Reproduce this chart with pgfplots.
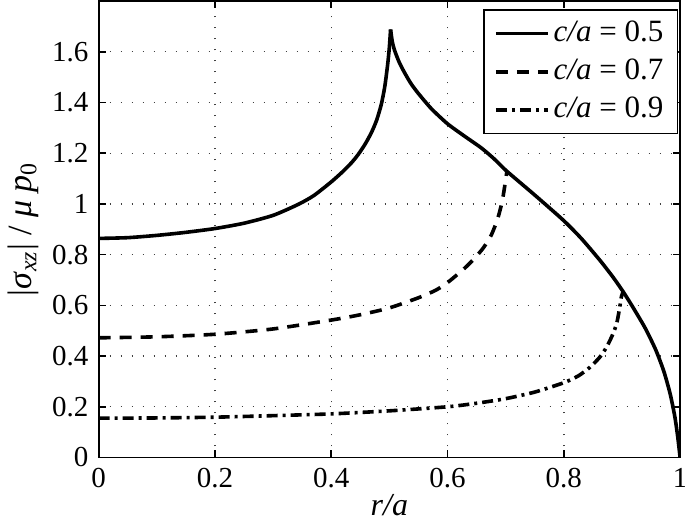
\documentclass[border=0pt]{standalone}
\usepackage{fontspec}
\setmainfont{Liberation Serif}
\usepackage{pgfplots}
\pgfplotsset{compat=1.18}

\begin{document}
\fontsize{15}{18}\selectfont
\begin{tikzpicture}
\useasboundingbox (-49.35pt,-35.25pt) rectangle (293.15pt,228.75pt);
\begin{axis}[
    at={(0pt,0pt)}, anchor=south west,
    scale only axis,
    width=290.7pt, height=228.2pt,
    xmin=0, xmax=1, ymin=0, ymax=1.8,
    xtick={0,0.2,0.4,0.6,0.8,1},
    ytick={0,0.2,0.4,0.6,0.8,1,1.2,1.4,1.6},
    /pgf/number format/assume math mode=true,
    ticklabel style={font=\fontsize{14.5}{17}\selectfont},
    grid=major,
    major grid style={black!75, line width=0.7pt, dash pattern=on 0.7pt off 4.8pt},
    tick align=inside,
    major tick length=3.5pt,
    tick style={black, line width=0.8pt},
    axis line style={black, line width=0.9pt},
    xlabel={\textit{r/a}},
    ylabel={|\textit{σ}\textsubscript{\textit{xz}}| / \textit{μ p}\textsubscript{0}},
    xlabel style={at={(axis description cs:0.5,-0.104)}, anchor=center, font=\fontsize{16}{19}\selectfont},
    ylabel style={at={(axis description cs:-0.13,0.5)}, anchor=center, font=\fontsize{17}{20}\selectfont},
    legend style={at={(rel axis cs:0.9966,0.982)}, anchor=north east,
        draw=black, line width=0.8pt, font=\fontsize{15.5}{18}\selectfont,
        row sep=2.5pt, inner xsep=5pt, inner ysep=3.5pt},
    legend cell align=left,
    legend image code/.code={\draw[#1] (0pt,0pt) -- (26pt,0pt);},
]

% c/a = 0.5, rising part up to the peak
\addplot[black, line width=1.8pt, smooth, tension=0.4] coordinates {
    (0,0.864) (0.05,0.867) (0.1,0.876) (0.15,0.888) (0.2,0.903)
    (0.25,0.924) (0.3,0.955) (0.343,0.998) (0.37,1.033)
    (0.4,1.087) (0.42,1.128) (0.435,1.163) (0.446,1.194) (0.458,1.235)
    (0.469,1.281) (0.478,1.33) (0.486,1.392) (0.492,1.462) (0.497,1.55)
    (0.500,1.62) (0.502,1.688)
};
\addlegendentry{\textit{c/a} = 0.5}
% c/a = 0.5, falling part
\addplot[black, line width=1.8pt, smooth, tension=0.4, forget plot] coordinates {
    (0.502,1.688) (0.505,1.64) (0.509,1.605) (0.517,1.558) (0.526,1.518) (0.537,1.475)
    (0.549,1.438) (0.572,1.376) (0.6,1.316) (0.63,1.266) (0.658,1.221)
    (0.68,1.178) (0.701,1.131) (0.75,1.035) (0.799,0.936) (0.83,0.864)
    (0.862,0.778) (0.885,0.71) (0.902,0.654) (0.919,0.592) (0.94,0.51)
    (0.958,0.425) (0.972,0.34) (0.983,0.25) (0.991,0.16) (0.996,0.08) (1,0)
};

% c/a = 0.7
\addplot[black, line width=1.8pt, dash pattern=on 6pt off 4.5pt, smooth, tension=0.4] coordinates {
    (0,0.472) (0.1,0.476) (0.2,0.486) (0.3,0.507) (0.4,0.542)
    (0.45,0.563) (0.5,0.59) (0.55,0.63) (0.58,0.66) (0.6,0.69) (0.616,0.72) (0.632,0.752)
    (0.647,0.787) (0.662,0.828) (0.675,0.876) (0.686,0.94) (0.694,1.01) (0.699,1.08)
    (0.702,1.127)
};
\addlegendentry{\textit{c/a} = 0.7}

% c/a = 0.9
\addplot[black, line width=1.8pt, dash pattern=on 5.5pt off 2.5pt on 1.5pt off 2.5pt, smooth, tension=0.4] coordinates {
    (0,0.155) (0.1,0.156) (0.2,0.159) (0.3,0.165) (0.4,0.172)
    (0.5,0.184) (0.6,0.2) (0.65,0.214) (0.7,0.232) (0.75,0.258)
    (0.8,0.295) (0.825,0.322) (0.845,0.356) (0.862,0.396) (0.874,0.437)
    (0.884,0.485) (0.891,0.529) (0.896,0.59) (0.899,0.634) (0.902,0.654)
};
\addlegendentry{\textit{c/a} = 0.9}

\end{axis}
\end{tikzpicture}
\end{document}
